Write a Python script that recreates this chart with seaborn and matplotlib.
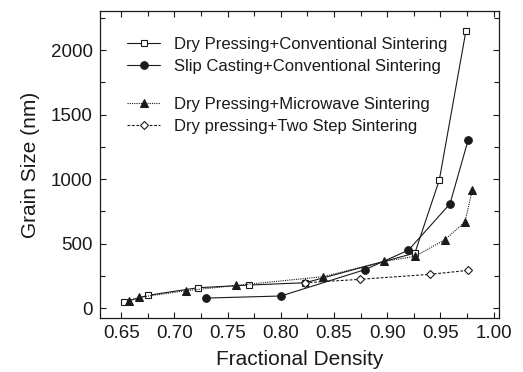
import matplotlib
matplotlib.use("Agg")
import matplotlib.pyplot as plt
import seaborn as sns
from matplotlib.ticker import MultipleLocator

sns.set_style("ticks")
plt.rcParams['font.family'] = ['Liberation Sans', 'DejaVu Sans']

labels = ["Dry Pressing+Conventional Sintering",
          "Slip Casting+Conventional Sintering",
          "Dry Pressing+Microwave Sintering",
          "Dry pressing+Two Step Sintering"]

dp_conv_x = [0.653, 0.675, 0.722, 0.770, 0.823, 0.926, 0.949, 0.974]
dp_conv_y = [46, 98, 157, 178, 196, 426, 994, 2150]

sc_conv_x = [0.730, 0.800, 0.879, 0.920, 0.959, 0.976]
sc_conv_y = [77, 93, 297, 449, 808, 1301]

dp_mw_x = [0.657, 0.667, 0.711, 0.758, 0.840, 0.897, 0.926, 0.954, 0.973, 0.980]
dp_mw_y = [57, 83, 134, 175, 243, 361, 400, 529, 666, 914]

dp_ts_x = [0.823, 0.874, 0.940, 0.976]
dp_ts_y = [196, 222, 261, 292]

fig = plt.figure(figsize=(5.23, 3.72), dpi=100)
ax = fig.add_axes([0.191, 0.145, 0.763, 0.825])

ink = "#1a1a1a"
sns.lineplot(x=dp_conv_x, y=dp_conv_y, ax=ax, sort=False, color=ink, lw=0.8,
             marker="s", markersize=4.5, markerfacecolor="white",
             markeredgecolor=ink, markeredgewidth=0.8, label=labels[0])
sns.lineplot(x=sc_conv_x, y=sc_conv_y, ax=ax, sort=False, color=ink, lw=0.8,
             marker="o", markersize=5.5, markerfacecolor=ink,
             markeredgecolor=ink, label=labels[1])
sns.lineplot(x=dp_mw_x, y=dp_mw_y, ax=ax, sort=False, color=ink, lw=0.8,
             linestyle=(0, (1, 1)), marker="^", markersize=5.5,
             markerfacecolor=ink, markeredgecolor=ink, label=labels[2])
sns.lineplot(x=dp_ts_x, y=dp_ts_y, ax=ax, sort=False, color=ink, lw=0.8,
             linestyle=(0, (2.5, 1.5)), marker="D", markersize=4,
             markerfacecolor="white", markeredgecolor=ink,
             markeredgewidth=0.8, label=labels[3])

handles, labs = ax.get_legend_handles_labels()
if ax.get_legend():
    ax.get_legend().remove()

legkw = dict(frameon=False, fontsize=12, handlelength=2.0, handletextpad=0.8,
             labelspacing=0.42, borderpad=0, borderaxespad=0, loc="center left",
             labelcolor=ink)
leg1 = ax.legend(handles[:2], labs[:2], bbox_to_anchor=(0.068, 0.857), **legkw)
ax.add_artist(leg1)
ax.legend(handles[2:], labs[2:], bbox_to_anchor=(0.068, 0.661), **legkw)

ax.set_xlim(0.63, 1.005)
ax.set_ylim(-78, 2302)
ax.xaxis.set_major_locator(MultipleLocator(0.05))
ax.xaxis.set_minor_locator(MultipleLocator(0.025))
ax.yaxis.set_major_locator(MultipleLocator(500))
ax.yaxis.set_minor_locator(MultipleLocator(250))
ax.xaxis.set_major_formatter(plt.FuncFormatter(lambda v, p: f"{v:.2f}"))

ax.tick_params(which="both", direction="in", top=True, right=True,
               color=ink, width=0.8)
ax.tick_params(which="major", length=4.5, labelsize=13.5, labelcolor=ink, pad=5)
ax.tick_params(which="minor", length=3.5)
for s in ax.spines.values():
    s.set_visible(True)
    s.set_linewidth(0.9)
    s.set_color(ink)

ax.set_xlabel("Fractional Density", fontsize=15, color=ink, labelpad=6)
ax.set_ylabel("Grain Size (nm)", fontsize=15, color=ink, labelpad=8)

fig.savefig("out.png", dpi=100)
